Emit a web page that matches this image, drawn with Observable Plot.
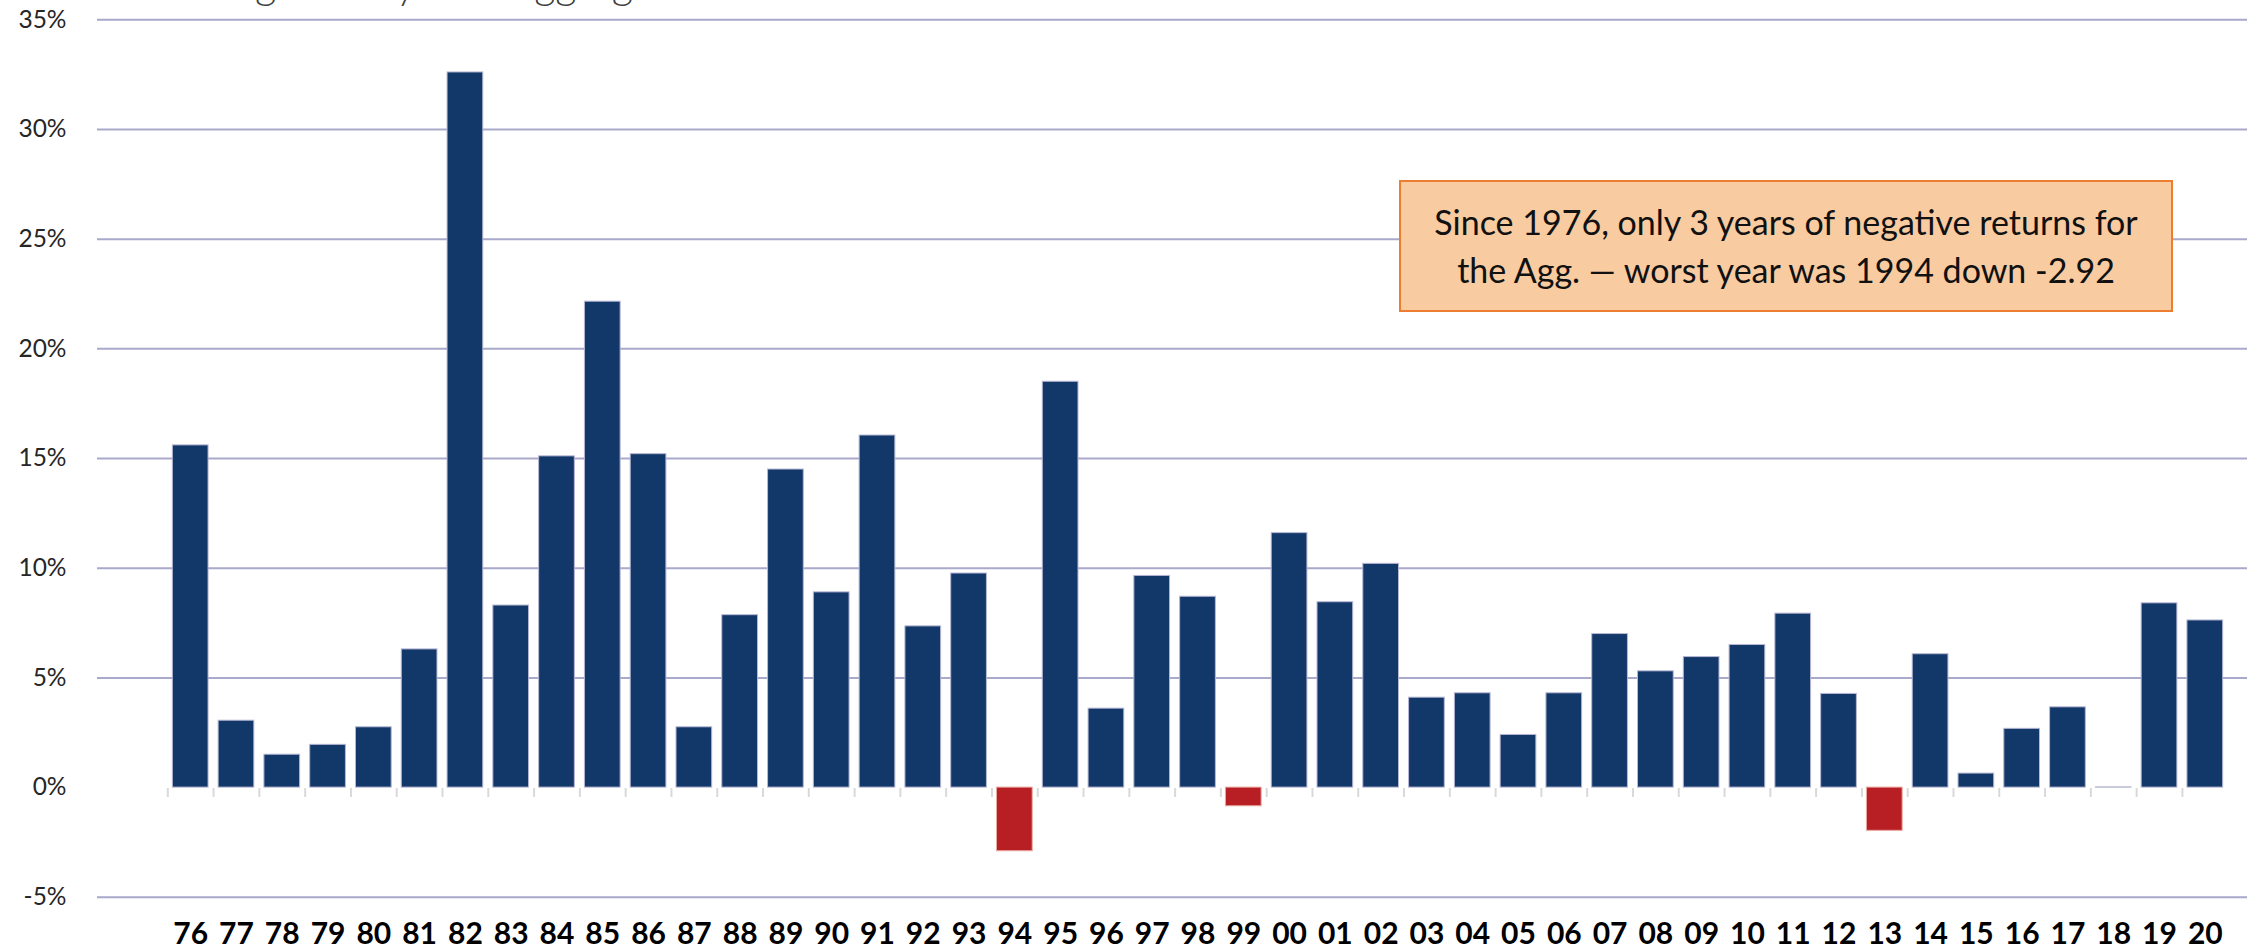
<!DOCTYPE html>
<html><head><meta charset="utf-8">
<script src="https://cdn.jsdelivr.net/npm/d3@7"></script>
<script src="https://cdn.jsdelivr.net/npm/@observablehq/plot@0.6"></script>
<style>
body{margin:0;background:#fff;overflow:hidden}
#wrap{position:relative;width:2257px;height:950px}
#title{position:absolute;left:82px;top:-38px;font-family:Lato;font-weight:300;font-size:41.5px;line-height:42px;color:#404040;white-space:nowrap}
#note{position:absolute;left:1399px;top:180px;width:770px;height:128px;background:#F8CBA1;border:2px solid #ED7D31;font-family:Lato;font-size:34px;line-height:48px;color:#111;text-align:center;display:flex;align-items:center;justify-content:center}
</style>
</head><body>
<div id="wrap">
<div id="chart"></div>
<div id="title">Bloomberg Barclays US Aggregate Bond Index Total Return</div>
<div id="note"><div>Since 1976, only 3 years of negative returns for<br>the Agg. — worst year was 1994 down -2.92</div></div>
</div>
<script>
const years = ["76","77","78","79","80","81","82","83","84","85","86","87","88","89","90","91","92","93","94","95","96","97","98","99","00","01","02","03","04","05","06","07","08","09","10","11","12","13","14","15","16","17","18","19","20"];
const returns = [15.6,3.05,1.5,1.95,2.75,6.3,32.6,8.3,15.1,22.15,15.2,2.75,7.86,14.5,8.9,16.05,7.35,9.76,-2.9,18.5,3.6,9.65,8.7,-0.85,11.6,8.45,10.2,4.1,4.3,2.4,4.3,7.0,5.3,5.95,6.5,7.93,4.27,-1.97,6.08,0.64,2.68,3.66,0.01,8.4,7.62];
const yTicks = [-5,0,5,10,15,20,25,30,35];

const data = years.map((y,i)=>({year:y, ret:returns[i]}));
const x0 = 167.3, x1 = 2227.7;
const step = (x1-x0)/years.length;

const chart = Plot.plot({
  width:2257, height:950,
  marginLeft:97, marginRight:10, marginTop:19, marginBottom:162,
  style:{fontFamily:"Lato", background:"white"},
  x:{type:"band", domain:years, range:[x0,x1], paddingInner:0.22, paddingOuter:0.11, label:null},
  y:{domain:[-5,35], range:[896.8,19.3], label:null},
  marks:[
    Plot.gridY(yTicks.filter(t=>t!==0), {stroke:"#A9A9CB", strokeOpacity:1, strokeWidth:2}),
    Plot.axisY(yTicks, {tickSize:0, tickPadding:31, tickFormat:d=>d+"%", fontSize:24.5, fill:"#262626", label:null}),
    Plot.axisX({tickSize:9, dx:-step/2, tickFormat:()=>"", stroke:"#D9D9D9", strokeWidth:2, strokeOpacity:1, label:null}),
    Plot.barY(data, {filter:d=>d.ret>=0, x:"year", y:"ret", fill:"#12386A", stroke:"#B7B7D3", strokeWidth:1}),
    Plot.barY(data, {filter:d=>d.ret<0, x:"year", y:"ret", fill:"#B81F25", stroke:"#E7A9A0", strokeWidth:1}),
    Plot.text(years, {x:d=>d, text:d=>d, frameAnchor:"bottom", dy:146, lineAnchor:"middle", fontSize:30, fontWeight:"bold", fill:"#000"})
  ]
});
document.getElementById("chart").appendChild(chart);
</script>
</body></html>
